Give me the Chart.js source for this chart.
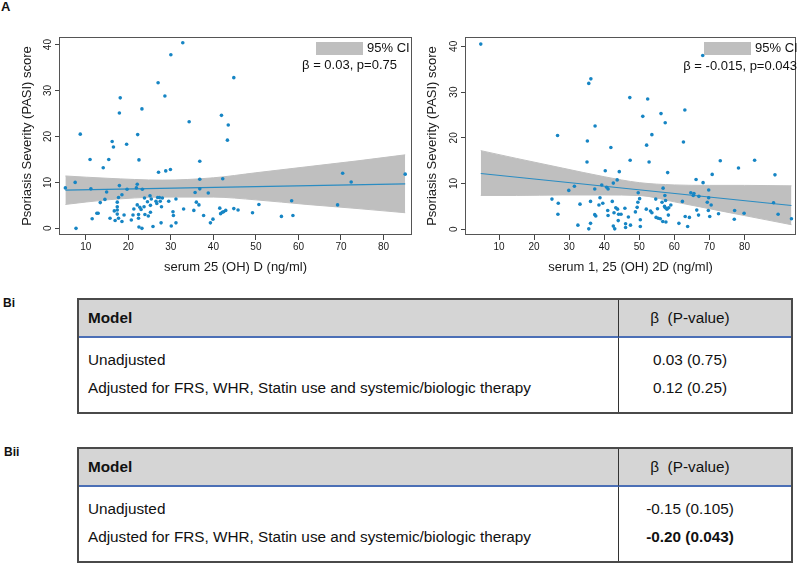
<!DOCTYPE html>
<html lang="en">
<head>
<meta charset="UTF-8" />
<title>Vitamin D and psoriasis severity</title>
<script src="https://cdn.jsdelivr.net/npm/chart.js"></script>
<style>
  body { margin: 0; background: #fff; font-family: "Liberation Sans", Arial, sans-serif; color: #111; }
  .page { position: relative; width: 800px; height: 564px; overflow: hidden; }
  canvas { position: absolute; top: 0; }
  .tag { position: absolute; font-weight: bold; font-size: 12px; line-height: 14px; }
  .key { position: absolute; width: 47px; height: 13px; background: #bfbfbf; }
  .keytxt, .stat { position: absolute; font-size: 13px; line-height: 16px; white-space: nowrap; }
  table.model { position: absolute; left: 77px; width: 716px; border: 2px solid #4a4a4a; border-collapse: separate; border-spacing: 0; font-size: 15.3px; }
  table.model th { height: 36px; background: #d5d5d5; border-bottom: 2px solid #4b6fb6; padding: 0 0 0 9px; text-align: left; }
  table.model th.b { font-weight: normal; text-align: center; padding: 0 30px 0 0; border-left: 1px solid #333; }
  table.model td { padding: 0 0 0 9px; line-height: 20px; vertical-align: top; }
  table.model td.b { border-left: 1px solid #333; text-align: center; padding-left: 0; padding-right: 30px; }
  tr.r1 td, tr.r1 td.b { padding-top: 12px; padding-bottom: 8px; }
  tr.r2 td, tr.r2 td.b { padding-bottom: 14px; }
</style>
</head>
<body>
<div class="page">
  <div class="tag" style="left:1px;top:0px;font-size:13px;">A</div>

  <canvas id="chartD" width="416" height="280" style="left:0;"></canvas>
  <canvas id="chart2D" width="385" height="280" style="left:415px;"></canvas>

  <!-- legends inside the plots -->
  <div class="key" style="left:316px;top:42px;"></div>
  <div class="keytxt" style="left:367px;top:40px;">95% CI</div>
  <div class="stat" style="right:403px;top:57px;">β = 0.03, p=0.75</div>

  <div class="key" style="left:704px;top:42px;"></div>
  <div class="keytxt" style="left:755px;top:40px;">95% CI</div>
  <div class="stat" style="right:3px;top:58px;">β = -0.015, p=0.043</div>

  <div class="tag" style="left:3px;top:296px;">Bi</div>
  <table class="model" style="top:298px;">
    <colgroup><col style="width:539px;"><col></colgroup>
    <tr><th>Model</th><th class="b">β&nbsp;&nbsp;(P-value)</th></tr>
    <tr class="r1"><td>Unadjusted</td><td class="b">0.03 (0.75)</td></tr>
    <tr class="r2"><td>Adjusted for FRS, WHR, Statin use and systemic/biologic therapy</td><td class="b">0.12 (0.25)</td></tr>
  </table>

  <div class="tag" style="left:4px;top:445px;">Bii</div>
  <table class="model" style="top:447px;">
    <colgroup><col style="width:539px;"><col></colgroup>
    <tr><th>Model</th><th class="b">β&nbsp;&nbsp;(P-value)</th></tr>
    <tr class="r1"><td>Unadjusted</td><td class="b">-0.15 (0.105)</td></tr>
    <tr class="r2"><td>Adjusted for FRS, WHR, Statin use and systemic/biologic therapy</td><td class="b"><b>-0.20 (0.043)</b></td></tr>
  </table>
</div>

<script>
// ---- panel A left: serum 25 (OH) D vs PASI ----
const vitD = [5.2,7.5,7.7,8.7,11.0,11.2,11.5,13.4,12.6,12.9,14.1,14.5,14.9,15.4,15.7,16.2,16.5,16.7,16.9,17.4,17.4,17.4,17.4,17.7,17.7,17.9,18.1,17.9,18.5,18.5,19.0,19.6,19.7,20.7,21.1,21.3,21.9,22.1,22.1,22.2,22.4,22.4,22.5,22.5,22.7,23.0,23.2,23.3,23.2,23.7,23.8,23.9,24.5,24.7,25.1,25.2,25.4,25.2,25.8,26.5,26.7,26.9,27.1,27.0,27.3,27.5,27.7,27.8,28.0,28.6,28.8,29.5,29.9,30.0,30.1,30.5,30.6,31.2,31.2,32.8,33.0,34.3,35.4,35.7,36.0,36.6,36.8,36.8,36.8,37.7,38.8,39.3,39.9,41.5,41.9,41.7,42.1,42.2,42.4,42.9,43.3,43.5,44.8,44.8,45.8,49.2,50.7,56.0,58.4,58.7,69.2,70.4,72.4,85.1];
const pasiD = [8.8,10.0,0,20.5,15.0,8.6,2.1,5.6,3.3,3.3,13.2,6.3,7.9,15.0,2.2,18.9,17.7,3.8,1.7,5.7,4.7,4.0,3.1,6.7,2.2,25.1,28.4,9.3,7.3,1.5,2.9,18.3,8.5,1.8,2.9,4.2,8.8,9.6,5.1,20.4,3.0,2.2,14.9,0.3,4.6,4.1,26.0,8.5,0,4.7,6.6,3.0,5.8,2.7,7.1,5.0,6.4,3.5,0.4,5.9,5.4,6.7,12.2,31.7,6.7,5.9,1.2,4.7,6.6,28.8,12.5,5.9,12.8,37.8,0.5,3.6,2.8,6.4,1.2,40.4,4.2,23.2,3.9,7.8,5.7,5.1,10.7,14.6,8.6,2.8,7.7,1.2,2.0,4.4,24.6,3.2,3.5,10.8,3.6,3.9,19.2,22.5,32.8,4.3,4.0,3.4,5.2,2.6,6.0,2.8,5.1,12.0,10.1,11.8];
const ciD_x  = [5.2, 15, 28, 40, 50, 62, 74, 85.1];
const ciD_lo = [5.2, 6.2, 6.8, 6.8, 6.2, 5.2, 4.3, 3.4];
const ciD_hi = [11.4, 10.9, 10.5, 11.0, 12.1, 13.4, 14.7, 16.0];
const fitD_x = [5.2, 85.1];
const fitD_y = [8.3, 9.7];

// ---- panel A right: serum 1, 25 (OH) 2D vs PASI ----
const vit2D = [4.8,25.1,26.7,26.9,26.8,29.9,31.5,32.5,33.1,35.1,35.2,35.6,36.2,36.1,35.6,36.1,37.4,37.3,37.3,37.6,38.5,38.8,39.3,39.6,40.3,40.7,41.1,41.0,41.1,41.9,42.3,42.6,42.8,42.6,43.0,43.3,43.7,43.8,44.0,44.1,44.3,44.8,45.9,46.1,46.1,46.9,47.3,47.4,47.5,48.9,49.4,49.6,49.7,50.1,50.3,50.3,51.0,52.0,52.1,52.4,52.8,53.2,53.6,53.6,54.7,54.8,55.2,55.4,56.0,56.2,56.5,56.7,56.8,57.2,57.3,57.4,57.4,57.5,57.6,57.9,58.1,58.3,58.4,59.0,61.3,62.3,62.6,63.0,63.1,63.8,64.3,64.7,65.4,65.6,66.2,66.4,67.0,66.9,68.1,68.2,69.4,69.7,69.8,69.8,70.1,70.5,70.8,72.6,73.1,77.1,77.2,78.3,79.9,82.9,88.3,88.7,89.6,93.4];
const pasi2D = [40.5,6.6,20.5,5.7,3.3,8.5,9.4,0.9,5.5,14.7,19.3,31.9,32.9,6.1,0.1,1.3,22.6,8.8,3.2,2.9,5.3,6.9,9.7,5.7,12.8,9.2,8.8,4.1,3.0,17.9,6.1,10.1,3.6,0.7,0.1,4.7,10.8,4.4,1.9,3.3,12.6,3.3,4.6,1.2,0.4,2.7,28.8,15.1,0.9,3.8,4.8,5.9,8.0,6.7,2.1,0.6,24.7,4.4,18.4,28.5,14.7,4.0,3.6,20.7,6.6,2.6,4.5,2.4,2.3,25.3,5.9,1.7,9.0,5.0,7.4,4.7,23.3,6.3,1.6,4.4,12.4,3.1,4.7,5.3,1.3,6.1,19.1,26.1,2.8,0.6,2.6,8.0,7.4,7.8,10.9,4.2,7.2,3.1,38.0,10.2,5.9,4.1,8.6,6.9,2.8,5.3,12.0,3.4,15.0,2.2,4.1,13.4,3.5,15.1,5.8,11.9,3.3,2.3];
const ci2D_x  = [4.8, 15, 28, 40, 50, 60, 70, 80, 93.4];
const ci2D_lo = [7.4, 7.4, 7.5, 7.5, 7.4, 6.0, 4.5, 3.0, 1.0];
const ci2D_hi = [17.2, 15.5, 13.4, 11.5, 10.2, 9.7, 9.6, 9.6, 9.5];
const fit2D_x = [4.8, 93.4];
const fit2D_y = [12.2, 5.2];

const xTicks = [10, 20, 30, 40, 50, 60, 70, 80];
const yTicks = [0, 10, 20, 30, 40];

const DOT = '#1685c4';
const FIT = '#2a8cc2';
const BAND = '#bfbfbf';

Chart.defaults.font.family = '"Liberation Sans", Arial, sans-serif';
Chart.defaults.color = '#1a1a1a';

const frame = {
  id: 'frame',
  afterDraw(chart) {
    const { ctx, chartArea: a } = chart;
    ctx.save();
    ctx.strokeStyle = '#555';
    ctx.lineWidth = 1;
    ctx.strokeRect(Math.round(a.left) + 0.5, Math.round(a.top) + 0.5, Math.round(a.width) - 1, Math.round(a.height) - 1);
    ctx.restore();
  }
};

const pts = (xs, ys) => xs.map((x, i) => ({ x: x, y: ys[i] }));

function makeChart(id, xs, ys, bx, lo, hi, fx, fy, cfg) {
  new Chart(document.getElementById(id), {
    type: 'scatter',
    data: {
      datasets: [
        { label: 'PASI', data: pts(xs, ys), pointRadius: 1.8, pointBackgroundColor: DOT, pointBorderWidth: 0 },
        { type: 'line', label: 'fit', data: pts(fx, fy), borderColor: FIT, borderWidth: 1.2, pointRadius: 0, fill: false },
        { type: 'line', label: 'upper', data: pts(bx, hi), borderColor: BAND, borderWidth: 1, pointRadius: 0, fill: false, cubicInterpolationMode: 'monotone' },
        { type: 'line', label: '95% CI', data: pts(bx, lo), borderColor: BAND, borderWidth: 1, pointRadius: 0, fill: '-1', backgroundColor: BAND, cubicInterpolationMode: 'monotone' }
      ]
    },
    options: {
      responsive: false,
      animation: false,
      layout: { padding: { top: 37, right: cfg.padRight, left: 0, bottom: 0 } },
      plugins: { legend: { display: false }, tooltip: { enabled: false } },
      scales: {
        x: {
          type: 'linear', min: cfg.xMin, max: cfg.xMax,
          afterBuildTicks: s => { s.ticks = xTicks.map(v => ({ value: v })); },
          afterFit: s => { s.height = 45; },
          grid: { drawOnChartArea: false, tickLength: 5, color: '#444' },
          border: { display: false },
          ticks: { font: { size: 10 }, padding: 1, maxRotation: 0, autoSkip: false },
          title: { display: true, text: cfg.xTitle, font: { size: 13 }, padding: { top: 0, bottom: 5 } }
        },
        y: {
          min: cfg.yMin, max: cfg.yMax,
          afterBuildTicks: s => { s.ticks = yTicks.map(v => ({ value: v })); },
          afterFit: s => { s.width = cfg.yWidth; },
          grid: { drawOnChartArea: false, tickLength: 4, color: '#444' },
          border: { display: false },
          ticks: { font: { size: 10 }, padding: 1, minRotation: 90, maxRotation: 90, crossAlign: 'center', autoSkip: false },
          title: { display: true, text: 'Psoriasis Severity (PASI) score', font: { size: 13 }, padding: { top: cfg.yTitlePad, bottom: 0 } }
        }
      }
    },
    plugins: [frame]
  });
}

makeChart('chartD', vitD, pasiD, ciD_x, ciD_lo, ciD_hi, fitD_x, fitD_y,
  { xMin: 3.7, xMax: 86.7, yMin: -1.45, yMax: 41.65, yWidth: 59, yTitlePad: 20, padRight: 3, xTitle: 'serum 25 (OH) D (ng/ml)' });
makeChart('chart2D', vit2D, pasi2D, ci2D_x, ci2D_lo, ci2D_hi, fit2D_x, fit2D_y,
  { xMin: 0.3, xMax: 94.7, yMin: -1.25, yMax: 42.05, yWidth: 50, yTitlePad: 10, padRight: 2, xTitle: 'serum 1, 25 (OH) 2D (ng/ml)' });
</script>
</body>
</html>
